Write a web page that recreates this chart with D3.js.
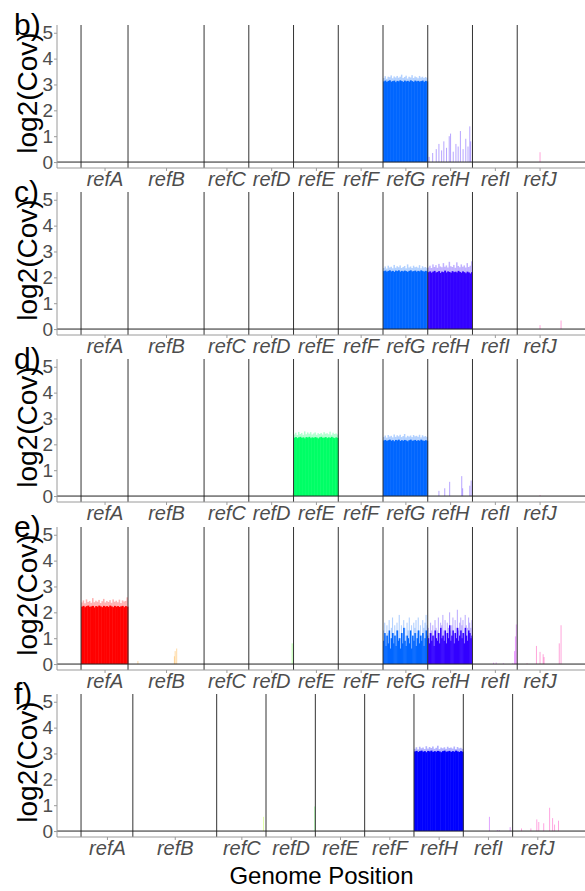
<!DOCTYPE html>
<html><head><meta charset="utf-8">
<script src="https://cdn.jsdelivr.net/npm/d3@7"></script>
<style>body{margin:0;background:#fff}svg{display:block}</style>
</head><body>
<script>
// ---------- data ----------
const refsFull = ["refA","refB","refC","refD","refE","refF","refG","refH","refI","refJ"];
const lengthsFull = [1.05,1.7,1,1,1,1,1,1,1,1];
const refsF = ["refA","refB","refC","refD","refE","refF","refH","refI","refJ"];
const lengthsF = [1.05,1.7,1,1,1,1,1,1,1];
const palette10 = ["#FF0000","#FF9900","#CCFF00","#33FF00","#00FF66","#00FFFF","#0066FF","#3300FF","#CC00FF","#FF0099"];
const palette9 = ["#FF0000","#FFAA00","#AAFF00","#00FF00","#00FFAA","#00AAFF","#0000FF","#AA00FF","#FF00AA"];
const yTicks = [0,1,2,3,4,5];
const panelLabels = ["b)","c)","d)","e)","f)"];

// dense coverage blocks: core (solid) and peak (light tips) per bin
const b_G_core = [3.12,3.15,3.1,3.14,3.16,3.11,3.13,3.15,3.09,3.14,3.12,3.16,3.13,3.1,3.15,3.12,3.14,3.11,3.16,3.13,3.1,3.15,3.12,3.14,3.11,3.13,3.15,3.1,3.14,3.12];
const b_G_peak = [3.25,3.32,3.22,3.3,3.28,3.35,3.24,3.31,3.27,3.33,3.26,3.3,3.38,3.25,3.29,3.34,3.23,3.3,3.27,3.36,3.25,3.31,3.28,3.24,3.33,3.27,3.3,3.25,3.29,3.26];
const c_G_core = [2.24,2.26,2.22,2.25,2.27,2.23,2.25,2.21,2.26,2.24,2.27,2.22,2.25,2.23,2.26,2.24,2.21,2.25,2.27,2.23,2.24,2.26,2.22,2.25,2.23,2.27,2.24,2.22,2.25,2.23];
const c_G_peak = [2.36,2.42,2.34,2.45,2.38,2.41,2.35,2.48,2.37,2.43,2.39,2.46,2.36,2.4,2.44,2.35,2.5,2.38,2.42,2.36,2.45,2.39,2.41,2.37,2.47,2.35,2.43,2.38,2.4,2.36];
const c_H_core = [2.2,2.23,2.18,2.22,2.25,2.19,2.21,2.24,2.17,2.22,2.2,2.26,2.19,2.23,2.21,2.18,2.24,2.2,2.22,2.19,2.25,2.21,2.18,2.23,2.2,2.16,2.22,2.19,2.15,2.2];
const c_H_peak = [2.38,2.45,2.36,2.5,2.4,2.47,2.37,2.52,2.42,2.39,2.55,2.41,2.46,2.38,2.6,2.43,2.4,2.48,2.37,2.58,2.44,2.39,2.5,2.41,2.46,2.38,2.55,2.4,2.45,2.62];
const d_E_core = [2.26,2.28,2.24,2.27,2.29,2.25,2.27,2.23,2.28,2.26,2.29,2.24,2.27,2.25,2.28,2.26,2.23,2.27,2.29,2.25,2.26,2.28,2.24,2.27,2.25,2.29,2.26,2.24,2.27,2.25];
const d_E_peak = [2.38,2.45,2.36,2.48,2.4,2.44,2.37,2.5,2.39,2.46,2.41,2.47,2.38,2.42,2.46,2.37,2.43,2.4,2.44,2.38,2.47,2.41,2.43,2.39,2.49,2.37,2.45,2.4,2.42,2.38];
const d_G_core = [2.15,2.17,2.13,2.16,2.18,2.14,2.16,2.12,2.17,2.15,2.18,2.13,2.16,2.14,2.17,2.15,2.12,2.16,2.18,2.14,2.15,2.17,2.13,2.16,2.14,2.18,2.15,2.13,2.16,2.14];
const d_G_peak = [2.28,2.34,2.26,2.36,2.3,2.33,2.27,2.38,2.29,2.35,2.31,2.37,2.28,2.32,2.4,2.27,2.33,2.3,2.34,2.28,2.36,2.31,2.33,2.29,2.37,2.27,2.35,2.3,2.32,2.28];
const e_A_core = [2.22,2.25,2.2,2.24,2.26,2.21,2.23,2.25,2.19,2.24,2.22,2.26,2.23,2.2,2.25,2.22,2.24,2.21,2.26,2.23,2.2,2.25,2.22,2.24,2.21,2.23,2.25,2.2,2.24,2.22];
const e_A_peak = [2.38,2.46,2.35,2.5,2.4,2.44,2.37,2.55,2.39,2.45,2.41,2.48,2.36,2.43,2.52,2.38,2.44,2.4,2.47,2.37,2.5,2.41,2.45,2.39,2.49,2.36,2.46,2.42,2.44,2.58];
const e_G_core = [0.9,1.2,0.7,1.1,0.8,1.3,0.6,1.0,1.2,0.8,1.1,0.7,1.3,0.9,1.0,0.6,1.2,0.8,1.4,0.9,0.7,1.1,1.0,0.8,1.3,0.6,1.1,0.9,1.2,0.7,1.0,1.3,0.8,1.1,0.9,1.2,0.7,1.0,1.3,1.1];
const e_G_peak = [1.3,1.6,1.1,1.5,1.2,1.7,1.0,1.4,1.8,1.2,1.5,1.1,1.6,1.3,1.9,1.0,1.5,1.2,1.7,1.4,1.1,1.6,1.3,1.8,1.2,1.5,1.0,1.6,1.4,1.7,1.2,1.8,1.3,1.5,1.1,1.7,1.4,1.6,1.9,1.5];
const e_H_core = [1.0,0.8,1.2,0.9,1.1,0.7,1.3,1.0,0.9,1.2,0.8,1.4,1.0,1.1,0.9,1.3,0.8,1.2,1.0,1.5,0.9,1.1,1.3,0.8,1.2,1.0,1.4,0.9,1.1,1.3,1.0,1.2,0.8,1.4,1.1,0.9,1.3,1.2,1.0,1.1];
const e_H_peak = [1.4,1.2,1.6,1.3,1.5,1.1,1.7,1.4,1.3,1.8,1.2,1.6,1.5,1.9,1.3,1.7,1.2,1.6,1.4,2.0,1.3,1.5,1.8,1.2,1.7,1.4,2.1,1.3,1.6,1.8,1.5,1.7,1.2,1.9,1.5,1.4,1.8,1.6,1.4,1.7];
const f_H_core = [3.08,3.1,3.06,3.09,3.11,3.07,3.09,3.05,3.1,3.08,3.11,3.06,3.09,3.07,3.1,3.08,3.05,3.09,3.11,3.07,3.08,3.1,3.06,3.09,3.07,3.11,3.08,3.06,3.09,3.07];
const f_H_peak = [3.18,3.24,3.16,3.26,3.2,3.23,3.17,3.28,3.19,3.25,3.21,3.27,3.18,3.22,3.3,3.17,3.23,3.2,3.24,3.18,3.26,3.21,3.23,3.19,3.27,3.17,3.25,3.2,3.22,3.18];

// sparse spikes: [reference, offset within reference (fraction), log2 coverage]
const b_spikes = [["refH",0.03,0.2],["refH",0.11,0.35],["refH",0.19,0.5],["refH",0.25,0.7],["refH",0.31,0.45],["refH",0.36,0.8],["refH",0.42,0.55],["refH",0.48,1.0],["refH",0.51,1.1],["refH",0.57,0.4],["refH",0.63,0.7],["refH",0.68,0.6],["refH",0.73,1.2],["refH",0.79,0.5],["refH",0.85,0.9],["refH",0.9,0.6],["refH",0.94,1.38],["refH",0.96,0.8],["refJ",0.51,0.38]];
const c_spikes = [["refJ",0.51,0.15],["refJ",0.98,0.33]];
const d_spikes = [["refD",0.99,0.1],["refH",0.25,0.2],["refH",0.38,0.3],["refH",0.49,0.55],["refH",0.76,0.77],["refH",0.78,0.3],["refH",0.94,0.4],["refH",0.97,0.6],["refJ",0.51,0.04]];
const e_spikes = [["refB",0.13,0.12],["refB",0.61,0.3],["refB",0.62,0.5],["refB",0.64,0.6],["refD",0.97,0.8],["refI",0.47,0.05],["refI",0.53,0.06],["refI",0.69,0.03],["refI",0.9,0.04],["refI",0.94,0.5],["refI",0.96,1.07],["refI",0.98,1.53],["refJ",0.22,0.03],["refJ",0.43,0.7],["refJ",0.51,0.47],["refJ",0.58,0.38],["refJ",0.6,0.27],["refJ",0.94,0.8],["refJ",0.98,1.5]];
const f_spikes = [["refC",0.95,0.55],["refD",0.99,0.95],["refI",0.53,0.55],["refI",0.69,0.04],["refI",0.73,0.04],["refI",0.95,0.15],["refJ",0.18,0.1],["refJ",0.37,0.1],["refJ",0.49,0.45],["refJ",0.53,0.35],["refJ",0.63,0.3],["refJ",0.75,0.9],["refJ",0.81,0.5],["refJ",0.85,0.25],["refJ",0.93,0.4]];

const panels = [
  {label: panelLabels[0], refs: refsFull, lengths: lengthsFull, pal: palette10,
   blocks: [{ref:"refG", core:b_G_core, peak:b_G_peak}], spikes: b_spikes},
  {label: panelLabels[1], refs: refsFull, lengths: lengthsFull, pal: palette10,
   blocks: [{ref:"refG", core:c_G_core, peak:c_G_peak},{ref:"refH", core:c_H_core, peak:c_H_peak}], spikes: c_spikes},
  {label: panelLabels[2], refs: refsFull, lengths: lengthsFull, pal: palette10,
   blocks: [{ref:"refE", core:d_E_core, peak:d_E_peak},{ref:"refG", core:d_G_core, peak:d_G_peak}], spikes: d_spikes},
  {label: panelLabels[3], refs: refsFull, lengths: lengthsFull, pal: palette10,
   blocks: [{ref:"refA", core:e_A_core, peak:e_A_peak},{ref:"refG", core:e_G_core, peak:e_G_peak},{ref:"refH", core:e_H_core, peak:e_H_peak}], spikes: e_spikes},
  {label: panelLabels[4], refs: refsF, lengths: lengthsF, pal: palette9,
   blocks: [{ref:"refH", core:f_H_core, peak:f_H_peak}], spikes: f_spikes}
];

// ---------- layout ----------
const W = 585, H = 891;
const left = 57, right = 586;
const panelTops = [25, 192, 359, 527, 694];
const panelH = 143;
const font = "'Liberation Sans', Arial, Helvetica, sans-serif";
const axisGrey = "#9a9a9a";
const textGrey = "#4d4d4d";

const svg = d3.select("body").append("svg").attr("width", W).attr("height", H)
  .style("font-family", font);
svg.append("rect").attr("width", W).attr("height", H).attr("fill", "#fff");

panels.forEach((p, pi) => {
  const top = panelTops[pi];
  const starts = [];
  let acc = 0;
  p.lengths.forEach(l => { starts.push(acc); acc += l; });
  const L = acc;
  const x = d3.scaleLinear().domain([-0.05 * L, 1.05 * L]).range([left, right]);
  const y = d3.scaleLinear().domain([-0.23, 5.3]).range([top + panelH, top]);
  const g = svg.append("g");
  const idx = r => p.refs.indexOf(r);

  // blocks
  p.blocks.forEach(b => {
    const i = idx(b.ref), s = starts[i], len = p.lengths[i], col = p.pal[i];
    const n = b.core.length, w = len / n;
    g.append("g").selectAll("rect").data(b.peak).join("rect")
      .attr("x", (d, k) => x(s + k * w))
      .attr("width", (d, k) => x(s + (k + 1) * w) - x(s + k * w))
      .attr("y", d => y(d)).attr("height", d => y(0) - y(d))
      .attr("fill", col).attr("opacity", 0.3);
    g.append("g").selectAll("rect").data(b.core).join("rect")
      .attr("x", (d, k) => x(s + k * w))
      .attr("width", (d, k) => x(s + (k + 1) * w) - x(s + k * w) + 0.4)
      .attr("y", d => y(d)).attr("height", d => y(0) - y(d))
      .attr("fill", col);
  });

  // spikes
  g.append("g").selectAll("line").data(p.spikes).join("line")
    .attr("x1", d => x(starts[idx(d[0])] + d[1] * p.lengths[idx(d[0])]))
    .attr("x2", d => x(starts[idx(d[0])] + d[1] * p.lengths[idx(d[0])]))
    .attr("y1", y(0)).attr("y2", d => y(d[2]))
    .attr("stroke", d => p.pal[idx(d[0])]).attr("stroke-width", 1).attr("opacity", 0.35);

  // reference boundaries
  g.append("g").selectAll("line").data(starts).join("line")
    .attr("x1", d => x(d)).attr("x2", d => x(d))
    .attr("y1", top).attr("y2", top + panelH)
    .attr("stroke", "#333").attr("stroke-width", 1);

  // zero line
  g.append("line").attr("x1", left).attr("x2", right)
    .attr("y1", y(0)).attr("y2", y(0)).attr("stroke", "#222").attr("stroke-width", 1);

  // y axis
  const ya = g.append("g").attr("transform", `translate(${left},0)`)
    .call(d3.axisLeft(y).tickValues(yTicks).tickSize(3).tickFormat(d3.format("d")));
  ya.select(".domain").attr("stroke", axisGrey).attr("d", `M0,${top}V${top + panelH}`);
  ya.selectAll(".tick line").attr("stroke", axisGrey);
  ya.selectAll(".tick text").attr("fill", textGrey).attr("font-size", 19)
    .attr("font-family", font).attr("x", -4);

  // x axis
  const mids = p.refs.map((r, i) => starts[i] + p.lengths[i] / 2);
  const xa = g.append("g").attr("transform", `translate(0,${top + panelH})`)
    .call(d3.axisBottom(x).tickValues(mids).tickSize(3).tickFormat((d, i) => p.refs[i]));
  xa.select(".domain").attr("stroke", axisGrey).attr("d", `M${left},0H${right}`);
  xa.selectAll(".tick line").attr("stroke", axisGrey);
  xa.selectAll(".tick text").attr("fill", textGrey).attr("font-size", 20)
    .attr("font-style", "italic").attr("font-family", font).attr("y", 4).attr("dy", "0.71em");

  // y title
  g.append("text").attr("transform", `translate(37,${top + 68}) rotate(-90)`)
    .attr("text-anchor", "middle").attr("font-size", 28).attr("fill", "#000")
    .text("log2(Cov)");
  // panel label
  g.append("text").attr("x", 14).attr("y", top + 10).attr("font-size", 30)
    .attr("fill", "#000").text(p.label);
});

svg.append("text").attr("x", (left + right) / 2).attr("y", 884)
  .attr("text-anchor", "middle").attr("font-size", 24).attr("fill", "#000")
  .text("Genome Position");
</script>
</body></html>
